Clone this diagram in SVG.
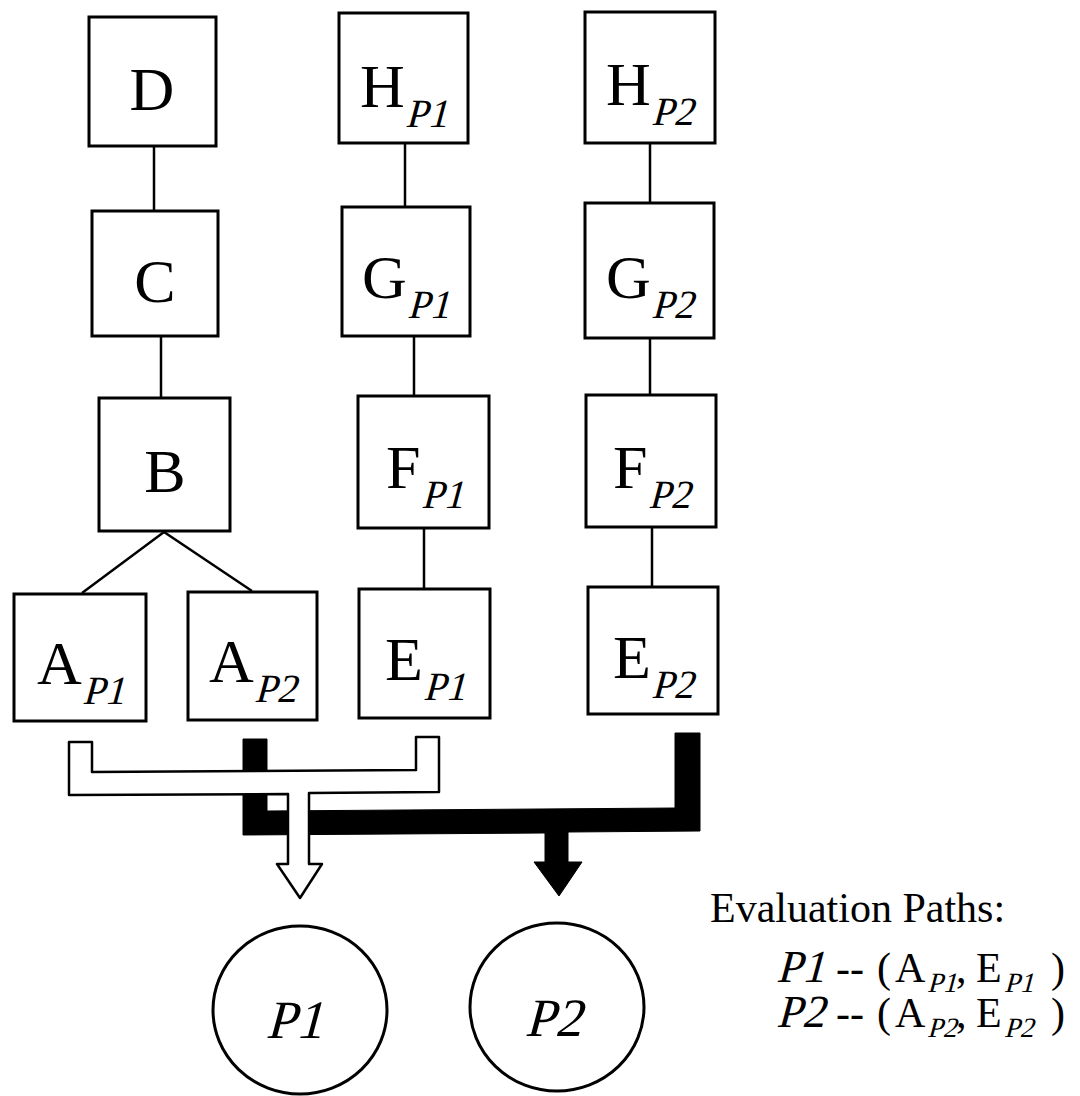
<svg xmlns="http://www.w3.org/2000/svg" width="1080" height="1096" viewBox="0 0 1080 1096">
<style>
.box{fill:#fff;stroke:#000;stroke-width:3}
.con{stroke:#000;stroke-width:2.5;fill:none}
.lbl{font-family:"Liberation Serif","Times New Roman",serif;font-size:62px;fill:#000}
.sub{font-family:"Liberation Serif","Times New Roman",serif;font-size:40px;fill:#000}
.circ{fill:#fff;stroke:#000;stroke-width:3}
.ctxt{font-family:"Liberation Serif","Times New Roman",serif;font-size:54px;fill:#000;text-anchor:middle}
.leg{font-family:"Liberation Serif","Times New Roman",serif;font-size:42px;fill:#000}
.it{font-family:"Liberation Serif","Times New Roman",serif;font-size:46px;fill:#000}
.ls{font-family:"Liberation Serif","Times New Roman",serif;font-size:28px;fill:#000}
</style>
<rect width="1080" height="1096" fill="#fff"/>
<g id="connectors">
<line class="con" x1="154" y1="146" x2="154" y2="211"/>
<line class="con" x1="161" y1="336" x2="161" y2="398"/>
<polyline class="con" points="82,593 164,532 252,591"/>
<line class="con" x1="405" y1="143" x2="405" y2="207"/>
<line class="con" x1="414" y1="336" x2="414" y2="396"/>
<line class="con" x1="424" y1="528" x2="424" y2="589"/>
<line class="con" x1="650" y1="143" x2="650" y2="203"/>
<line class="con" x1="650" y1="338" x2="650" y2="395"/>
<line class="con" x1="652" y1="527" x2="652" y2="587"/>
<polygon id="arrow-P2" fill="#000" stroke="#000" stroke-width="1" points="243,739 267,739 267,811 675,808 675,733 700,733 700,831 568,832 568,862 582,862 559,896 534,862 545,862 545,833 243,835"/>
<polygon id="arrow-P1" fill="#fff" stroke="#000" stroke-width="2.5" stroke-linejoin="round" points="69,742 92,742 92,772 416,770 416,737 439,737 439,792 309,793 309,864 322,864 300,898 277,864 288,864 288,794 69,795"/>
</g>
<g id="D"><rect class="box" x="89" y="17" width="127" height="129"/><text class="lbl" x="152" y="110" text-anchor="middle">D</text></g>
<g id="C"><rect class="box" x="92" y="211" width="126" height="125"/><text class="lbl" x="155" y="302" text-anchor="middle">C</text></g>
<g id="B"><rect class="box" x="99" y="398" width="131" height="133"/><text class="lbl" x="165" y="492" text-anchor="middle">B</text></g>
<g id="A_P1"><rect class="box" x="14" y="594" width="132" height="127"/><text class="lbl" x="37" y="684">A</text><text class="sub" transform="translate(82,704) skewX(-15)">P1</text></g>
<g id="A_P2"><rect class="box" x="188" y="592" width="129" height="128"/><text class="lbl" x="209" y="682">A</text><text class="sub" transform="translate(254,702) skewX(-15)">P2</text></g>
<g id="E_P1"><rect class="box" x="359" y="589" width="131" height="129"/><text class="lbl" x="385" y="680">E</text><text class="sub" transform="translate(423,700) skewX(-15)">P1</text></g>
<g id="F_P1"><rect class="box" x="358" y="396" width="131" height="132"/><text class="lbl" x="386" y="488">F</text><text class="sub" transform="translate(421,508) skewX(-15)">P1</text></g>
<g id="G_P1"><rect class="box" x="342" y="207" width="128" height="129"/><text class="lbl" x="362" y="298">G</text><text class="sub" transform="translate(407,318) skewX(-15)">P1</text></g>
<g id="H_P1"><rect class="box" x="339" y="13" width="129" height="130"/><text class="lbl" x="360" y="107">H</text><text class="sub" transform="translate(405,127) skewX(-15)">P1</text></g>
<g id="H_P2"><rect class="box" x="585" y="12" width="130" height="131"/><text class="lbl" x="606" y="105">H</text><text class="sub" transform="translate(651,125) skewX(-15)">P2</text></g>
<g id="G_P2"><rect class="box" x="585" y="203" width="129" height="135"/><text class="lbl" x="606" y="298">G</text><text class="sub" transform="translate(651,318) skewX(-15)">P2</text></g>
<g id="F_P2"><rect class="box" x="586" y="395" width="130" height="132"/><text class="lbl" x="613" y="488">F</text><text class="sub" transform="translate(648,508) skewX(-15)">P2</text></g>
<g id="E_P2"><rect class="box" x="588" y="587" width="130" height="127"/><text class="lbl" x="613" y="678">E</text><text class="sub" transform="translate(651,698) skewX(-15)">P2</text></g>
<g id="P1"><ellipse class="circ" cx="300" cy="1010" rx="87" ry="84"/><text class="ctxt" transform="translate(294,1038) skewX(-15)">P1</text></g>
<g id="P2"><ellipse class="circ" cx="557" cy="1007" rx="87" ry="84"/><text class="ctxt" transform="translate(553,1036) skewX(-15)">P2</text></g>
<g id="legend">
<text class="leg" x="710" y="922">Evaluation Paths:</text>
<text class="it" transform="translate(776,982) skewX(-15)">P1</text>
<text class="leg" x="836" y="982">--</text>
<text class="leg" x="877" y="982">(</text>
<text class="leg" x="895" y="982">A</text>
<text class="ls" transform="translate(927,992) skewX(-15)">P1</text>
<text class="leg" x="956" y="982">,</text>
<text class="leg" x="976" y="982">E</text>
<text class="ls" transform="translate(1004,992) skewX(-15)">P1</text>
<text class="leg" x="1051" y="982">)</text>
<text class="it" transform="translate(776,1027) skewX(-15)">P2</text>
<text class="leg" x="836" y="1027">--</text>
<text class="leg" x="877" y="1027">(</text>
<text class="leg" x="895" y="1027">A</text>
<text class="ls" transform="translate(927,1037) skewX(-15)">P2</text>
<text class="leg" x="956" y="1027">,</text>
<text class="leg" x="976" y="1027">E</text>
<text class="ls" transform="translate(1004,1037) skewX(-15)">P2</text>
<text class="leg" x="1051" y="1027">)</text>
</g>
</svg>
